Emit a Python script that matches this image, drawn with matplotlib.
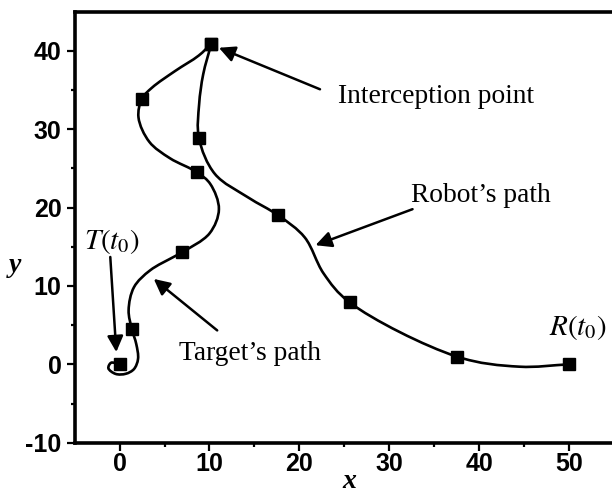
import numpy as np
import matplotlib
matplotlib.use("Agg")
import matplotlib.pyplot as plt
from matplotlib.path import Path
from matplotlib.patches import PathPatch
from matplotlib.ticker import FixedLocator

# Target trajectory (starts at T(t0), ends at the interception point)
target_path_x = [0.0, -0.95, -1.25, -0.45, 0.7, 1.6, 2.05, 1.85, 1.37, 1.0, 1.6,
                 3.4, 6.0, 6.95, 10.0, 11.05, 10.1, 8.63, 5.6, 3.3, 2.1,
                 2.49, 3.6, 6.2, 8.8, 10.2]
target_path_y = [0.0, 0.2, -0.5, -1.22, -1.2, -0.6, 0.7, 2.6, 4.46, 6.9, 9.85,
                 12.0, 13.7, 14.3, 16.7, 19.8, 23.0, 24.5, 26.3, 28.4, 31.5,
                 33.9, 35.3, 37.45, 39.4, 40.9]
target_marks_x = [0.0, 1.37, 6.95, 8.63, 2.49, 10.2]
target_marks_y = [0.0, 4.46, 14.3, 24.5, 33.9, 40.9]

# Robot trajectory (starts at R(t0), ends at the interception point)
robot_path_x = [50.0, 44.5, 37.5, 25.6, 22.7, 20.6, 17.67, 14.3, 10.6, 8.82,
                8.85, 9.3, 10.2]
robot_path_y = [0.0, -0.3, 1.0, 7.9, 11.6, 16.2, 19.0, 21.3, 24.3, 28.9,
                33.2, 37.0, 40.9]
robot_marks_x = [50.0, 37.5, 25.6, 17.67, 8.82, 10.2]
robot_marks_y = [0.0, 1.0, 7.9, 19.0, 28.9, 40.9]

x_ticks = [0, 10, 20, 30, 40, 50]
y_ticks = [-10, 0, 10, 20, 30, 40]
x_minor = [5, 15, 25, 35, 45]
y_minor = [-5, 5, 15, 25, 35]

# pixels per data unit on each axis, so the spline is built in a
# geometrically uniform space
SX, SY = 8.98, 7.84


def smooth_path(xs, ys, alpha=0.5):
    """Centripetal Catmull-Rom curve through the points, as a Bezier Path."""
    pts = np.column_stack([np.asarray(xs) * SX, np.asarray(ys) * SY])
    ext = np.vstack([2 * pts[0] - pts[1], pts, 2 * pts[-1] - pts[-2]])
    verts = [pts[0]]
    codes = [Path.MOVETO]
    for i in range(1, len(ext) - 2):
        p0, p1, p2, p3 = ext[i - 1], ext[i], ext[i + 1], ext[i + 2]
        d1 = max(np.linalg.norm(p1 - p0), 1e-6) ** alpha
        d2 = max(np.linalg.norm(p2 - p1), 1e-6) ** alpha
        d3 = max(np.linalg.norm(p3 - p2), 1e-6) ** alpha
        b1 = (d1 ** 2 * p2 - d2 ** 2 * p0 + (2 * d1 ** 2 + 3 * d1 * d2 + d2 ** 2) * p1) \
            / (3 * d1 * (d1 + d2))
        b2 = (d3 ** 2 * p1 - d2 ** 2 * p3 + (2 * d3 ** 2 + 3 * d3 * d2 + d2 ** 2) * p2) \
            / (3 * d3 * (d3 + d2))
        verts += [b1, b2, p2]
        codes += [Path.CURVE4] * 3
    verts = np.array(verts) / np.array([SX, SY])
    return Path(verts, codes)


plt.rcParams["mathtext.fontset"] = "stix"
plt.rcParams["axes.unicode_minus"] = False

fig = plt.figure(figsize=(6.12, 4.95), dpi=100)
ax = fig.add_axes([74.7 / 612, 52.3 / 495, (612 - 74.7) / 612, 431 / 495])
ax.set_xlim(-5, 54.8)
ax.set_ylim(-10, 45)

for xs, ys in [(target_path_x, target_path_y), (robot_path_x, robot_path_y)]:
    ax.add_patch(PathPatch(smooth_path(xs, ys), fill=False, lw=1.9,
                           edgecolor="black", capstyle="round", zorder=2))

ax.plot(target_marks_x, target_marks_y, ls="none", marker="s", ms=8,
        color="black", zorder=3)
ax.plot(robot_marks_x, robot_marks_y, ls="none", marker="s", ms=8,
        color="black", zorder=3)

# Axes styling
for side in ["left", "bottom", "top"]:
    ax.spines[side].set_linewidth(2.6)
ax.spines["right"].set_visible(False)
ax.xaxis.set_major_locator(FixedLocator(x_ticks))
ax.yaxis.set_major_locator(FixedLocator(y_ticks))
ax.xaxis.set_minor_locator(FixedLocator(x_minor))
ax.yaxis.set_minor_locator(FixedLocator(y_minor))
ax.tick_params(which="major", direction="out", length=6, width=1.6,
               top=False, right=False)
ax.tick_params(which="minor", direction="out", length=3, width=1.6,
               top=False, right=False)
ax.tick_params(axis="x", pad=0.8)
ax.tick_params(axis="y", pad=3.5)
for lab in ax.get_xticklabels() + ax.get_yticklabels():
    lab.set_fontfamily("Liberation Sans")
    lab.set_fontweight("bold")
    lab.set_fontsize(18)

serif = "Liberation Serif"
fs = 19.8
ax.text(24.3, 33.4, "Interception point", family=serif, fontsize=fs,
        ha="left", va="baseline")
ax.text(32.4, 20.7, "Robot\u2019s path", family=serif, fontsize=fs,
        ha="left", va="baseline")
ax.text(6.6, 0.5, "Target\u2019s path", family=serif, fontsize=fs,
        ha="left", va="baseline")
ax.text(-4.0, 14.7, r"$T\left(t_0\right)$", fontsize=21, ha="left", va="baseline")
ax.text(47.8, 3.7, r"$R\left(t_0\right)$", fontsize=21, ha="left", va="baseline")

arrow_kw = dict(arrowstyle="-|>", lw=1.8, color="black",
                shrinkA=0, shrinkB=0, mutation_scale=24)
arrows = [((22.3, 35.1), (11.05, 40.4)),
          ((32.6, 19.8), (21.8, 15.2)),
          ((10.86, 4.33), (3.8, 10.9)),
          ((-1.04, 13.7), (-0.37, 1.57))]
for tail, head in arrows:
    ax.annotate("", xy=head, xytext=tail, arrowprops=arrow_kw)

fig.text(349 / 612, 1 - 481 / 495, "x", family=serif, fontsize=20,
         fontweight="bold", fontstyle="italic", ha="center", va="center")
fig.text(15 / 612, 1 - 266 / 495, "y", family=serif, fontsize=20,
         fontweight="bold", fontstyle="italic", ha="center", va="center")

fig.savefig("out.png", dpi=100)
